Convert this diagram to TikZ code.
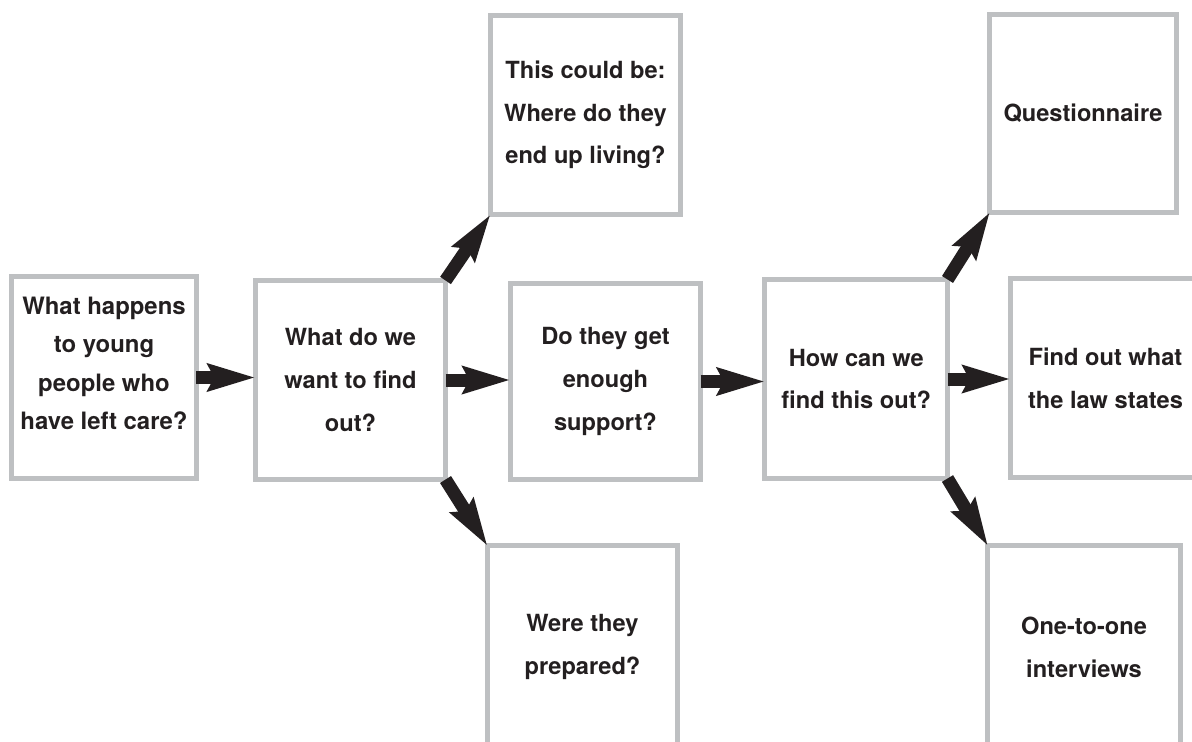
\documentclass[tikz,border=0pt]{standalone}
\usepackage{fontspec}
\setmainfont{TeX Gyre Heros}
\usetikzlibrary{arrows.meta}
\definecolor{boxgray}{RGB}{190,192,194}
\definecolor{inkblack}{RGB}{35,31,32}

\begin{document}
\begin{tikzpicture}[x=0.025cm, y=-0.025cm,
  words/.style={align=center, text=inkblack, font=\bfseries\fontsize{16.8}{30.4}\selectfont},
  box/.style={words, draw=boxgray, line width=0.125cm, outer sep=0pt, inner sep=0pt},
  link/.style={draw=inkblack, line width=0.325cm, -{Stealth[length=1.175cm, width=0.66cm, inset=0.15cm]}}]
  \useasboundingbox (0,0) rectangle (1192,742);
  \clip (0,0) rectangle (1192,742);
  \node [box, minimum width=4.6cm, minimum height=5.05cm] (start) at (104,377.5) {};
  \node [words, inner sep=0pt, font=\bfseries\fontsize{17}{27.4}\selectfont] (start-text) at (104,363.5) {What happens\\to young\\people who\\have left care?};
  \node [box, minimum width=4.75cm, minimum height=4.975cm] (want) at (350.5,380) {What do we\\want to find\\out?};
  \node [box, minimum width=4.75cm, minimum height=4.975cm] (living) at (585.5,115) {This could be:\\Where do they\\end up living?};
  \node [box, minimum width=4.75cm, minimum height=4.9cm] (support) at (605.5,381.5) {Do they get\\enough\\support?};
  \node [box, minimum width=4.75cm, minimum height=5.05cm] (prepared) at (582.5,647) {Were they\\prepared?};
  \node [box, minimum width=4.5625cm, minimum height=4.975cm] (how) at (856.25,379) {How can we\\find this out?};
  \node [box, minimum width=4.65cm, minimum height=4.9375cm] (quest) at (1083,113.25) {Questionnaire};
  \node [box, minimum width=4.75cm, minimum height=4.975cm] (law) at (1105.5,378) {Find out what\\the law states};
  \node [box, minimum width=4.8cm, minimum height=5.05cm] (interv) at (1084,647) {One-to-one\\interviews};
  \draw [link] (start.east) -- (start.east -| want.west);
  \draw [link] (want.east) -- (want.east -| support.west);
  \draw [link] (support.east) -- (support.east -| how.west);
  \draw [link] (how.east) -- (how.east -| law.west);
  \draw [link] (want.north east) -- (living.south west);
  \draw [link] (want.south east) -- (prepared.north west);
  \draw [link] (how.north east) -- (quest.south west);
  \draw [link] (how.south east) -- (interv.north west);
\end{tikzpicture}
\end{document}
